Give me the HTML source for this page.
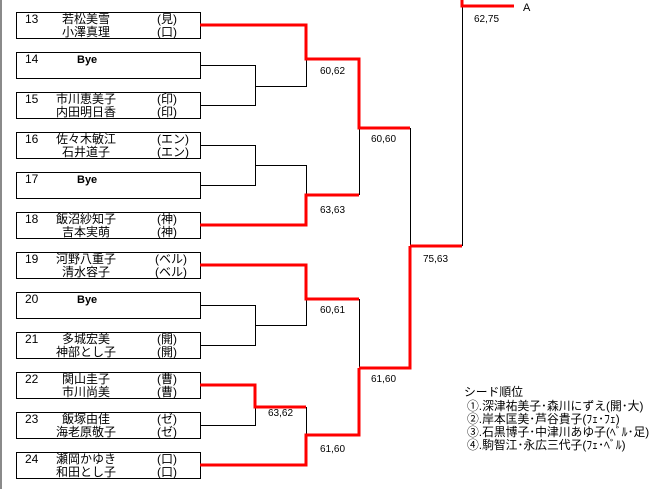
<!DOCTYPE html>
<html><head><meta charset="utf-8"><style>
html,body{margin:0;padding:0;background:#fff;}
svg{display:block;}
text{font-family:"Liberation Sans","Noto Sans CJK JP",sans-serif;fill:#000;}
.n{font-size:12px;}
.s{font-size:10px;}
</style></head><body>
<svg width="670" height="489" viewBox="0 0 670 489" xmlns="http://www.w3.org/2000/svg">
<rect x="0" y="0" width="2" height="489" fill="#8a8a8a"/>
<g fill="none" stroke="#000" stroke-width="1">
<rect x="16.5" y="12.5" width="184" height="26"/>
<rect x="16.5" y="52.5" width="184" height="26"/>
<rect x="16.5" y="92.5" width="184" height="26"/>
<rect x="16.5" y="132.5" width="184" height="26"/>
<rect x="16.5" y="172.5" width="184" height="26"/>
<rect x="16.5" y="212.5" width="184" height="26"/>
<rect x="16.5" y="252.5" width="184" height="26"/>
<rect x="16.5" y="292.5" width="184" height="26"/>
<rect x="16.5" y="332.5" width="184" height="26"/>
<rect x="16.5" y="372.5" width="184" height="26"/>
<rect x="16.5" y="412.5" width="184" height="26"/>
<rect x="16.5" y="452.5" width="184" height="26"/>
<polyline points="200,65.5 255.5,65.5 255.5,105.5 200,105.5"/>
<polyline points="255.5,86.5 306.5,86.5 306.5,59"/>
<polyline points="200,145.5 255.5,145.5 255.5,185.5 200,185.5"/>
<polyline points="255.5,165.5 306.5,165.5 306.5,195"/>
<polyline points="359.5,128 359.5,195"/>
<polyline points="410.5,128 410.5,246"/>
<polyline points="462.5,6 462.5,246"/>
<polyline points="200,305.5 255.5,305.5 255.5,345.5 200,345.5"/>
<polyline points="255.5,325.5 306.5,325.5 306.5,299"/>
<polyline points="359.5,299 359.5,368"/>
<polyline points="200,425.5 255.5,425.5 255.5,407"/>
<polyline points="306.5,407 306.5,435"/>
</g>
<g fill="none" stroke="#f00" stroke-width="3">
<polyline points="200,25 306,25 306,59 359,59 359,128 410,128"/>
<polyline points="200,225 306,225 306,195 359,195"/>
<polyline points="410,246 462,246"/>
<polyline points="462,0 462,6 514,6"/>
<polyline points="200,265 306,265 306,299 359,299"/>
<polyline points="359,368 410,368 410,246"/>
<polyline points="200,385 255,385 255,407 306,407"/>
<polyline points="200,465 306,465 306,435 359,435 359,368"/>
</g>
<g class="s">
<text x="320" y="74">60,62</text>
<text x="320" y="213">63,63</text>
<text x="371" y="142">60,60</text>
<text x="423" y="262">75,63</text>
<text x="474" y="22">62,75</text>
<text x="320" y="313">60,61</text>
<text x="371" y="382">61,60</text>
<text x="268" y="416">63,62</text>
<text x="320" y="452">61,60</text>
</g>
<text x="523" y="11" style="font-size:11px">A</text>
<g class="n">
<text x="25" y="23">13</text><text x="86" y="23" text-anchor="middle">若松美雪</text><text x="157" y="23">(見)</text>
<text x="86" y="36" text-anchor="middle">小澤真理</text><text x="157" y="36">(口)</text>
<text x="25" y="63">14</text><text x="77" y="63" style="font-weight:bold;font-size:11px">Bye</text>
<text x="25" y="103">15</text><text x="86" y="103" text-anchor="middle">市川恵美子</text><text x="157" y="103">(印)</text>
<text x="86" y="116" text-anchor="middle">内田明日香</text><text x="157" y="116">(印)</text>
<text x="25" y="143">16</text><text x="86" y="143" text-anchor="middle">佐々木敏江</text><text x="157" y="143">(エン)</text>
<text x="86" y="156" text-anchor="middle">石井道子</text><text x="157" y="156">(エン)</text>
<text x="25" y="183">17</text><text x="77" y="183" style="font-weight:bold;font-size:11px">Bye</text>
<text x="25" y="223">18</text><text x="86" y="223" text-anchor="middle">飯沼紗知子</text><text x="157" y="223">(神)</text>
<text x="86" y="236" text-anchor="middle">吉本実萌</text><text x="157" y="236">(神)</text>
<text x="25" y="263">19</text><text x="86" y="263" text-anchor="middle">河野八重子</text><text x="155" y="263">(ベル)</text>
<text x="86" y="276" text-anchor="middle">清水容子</text><text x="155" y="276">(ベル)</text>
<text x="25" y="303">20</text><text x="77" y="303" style="font-weight:bold;font-size:11px">Bye</text>
<text x="25" y="343">21</text><text x="86" y="343" text-anchor="middle">多城宏美</text><text x="157" y="343">(開)</text>
<text x="86" y="356" text-anchor="middle">神部とし子</text><text x="157" y="356">(開)</text>
<text x="25" y="383">22</text><text x="86" y="383" text-anchor="middle">関山圭子</text><text x="157" y="383">(曹)</text>
<text x="86" y="396" text-anchor="middle">市川尚美</text><text x="157" y="396">(曹)</text>
<text x="25" y="423">23</text><text x="86" y="423" text-anchor="middle">飯塚由佳</text><text x="157" y="423">(ゼ)</text>
<text x="86" y="436" text-anchor="middle">海老原敬子</text><text x="157" y="436">(ゼ)</text>
<text x="25" y="463">24</text><text x="86" y="463" text-anchor="middle">瀬岡かゆき</text><text x="157" y="463">(口)</text>
<text x="86" y="476" text-anchor="middle">和田とし子</text><text x="157" y="476">(口)</text>
</g>
<g style="font-size:11.8px">
<text x="464" y="396">シード順位</text>
<text x="467" y="410">①.深津祐美子･森川にずえ(開･大)</text>
<text x="467" y="423">②.岸本匡美･芦谷貴子(ﾌｪ･ﾌｪ)</text>
<text x="467" y="436">③.石黒博子･中津川あゆ子(ﾍﾞﾙ･足)</text>
<text x="467" y="449">④.駒智江･永広三代子(ﾌｪ･ﾍﾞﾙ)</text>
</g>
</svg>
</body></html>
